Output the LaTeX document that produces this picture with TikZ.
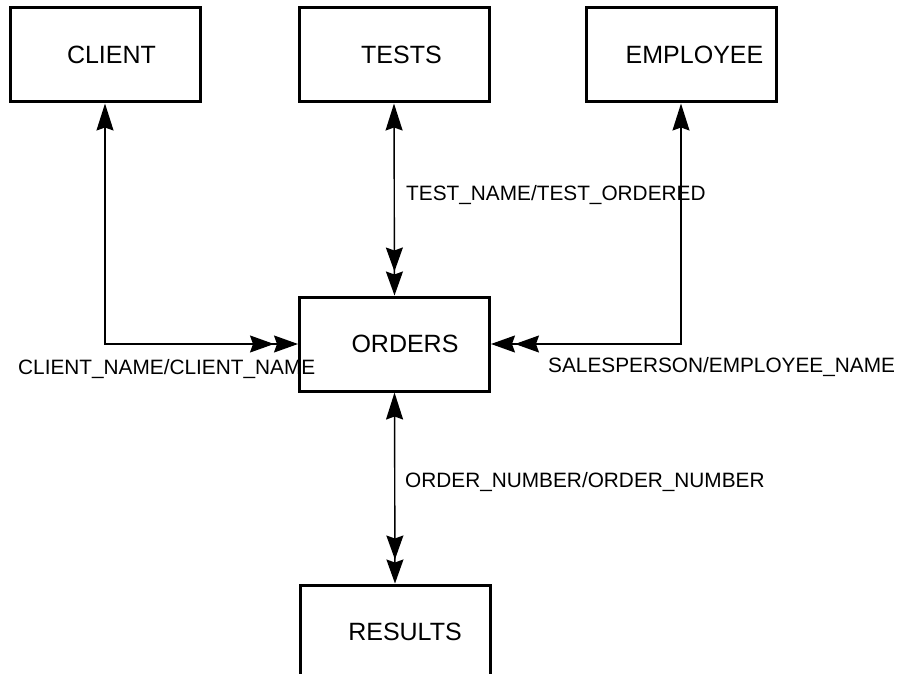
\documentclass[tikz,border=0pt]{standalone}
\usepackage{fontspec}
\setmainfont{Liberation Sans}
\usetikzlibrary{arrows.meta}
\tikzset{
  box/.style={draw,line width=3pt,minimum width=190pt,minimum height=94pt,inner sep=0pt,font=\fontsize{25}{30}\selectfont},
  conn/.style={line width=1.4pt},
  lbl/.style={inner sep=0pt,anchor=base west,font=\fontsize{20.8}{25}\selectfont},
  onehead/.style={{Stealth[length=27pt,width=17pt,inset=3pt]}-{Stealth[length=24pt,width=17pt,inset=3pt] Stealth[length=24pt,width=17pt,inset=3pt]}},
}
\newcommand{\bx}[3]{\hspace*{#1pt}\raisebox{-#2pt}{#3}}
\begin{document}
\begin{tikzpicture}[x=1pt,y=-1pt]
\useasboundingbox (0,0) rectangle (903,674);
\node[box] (client) at (105,55) {\bx{13}{4}{CLIENT}};
\node[box] (tests) at (394,55) {\bx{15}{4}{TESTS}};
\node[box] (employee) at (681,55) {\bx{27}{4}{EMPLOYEE}};
\node[box] (orders) at (394.5,344) {\bx{21}{2}{ORDERS}};
\node[box] (results) at (395,632) {\bx{20}{1.5}{RESULTS}};

\draw[conn,onehead] (client.south) |- (orders.west);
\draw[conn,onehead] (tests.south) -- (orders.north);
\draw[conn,onehead] (employee.south) |- (orders.east);
\draw[conn,onehead] (orders.south) -- (results.north);

\node[lbl] (l1) at (406,200.7) {TEST\_NAME/TEST\_ORDERED};
\node[lbl] (l2) at (18,374) {CLIENT\_NAME/CLIENT\_NAME};
\node[lbl] (l3) at (548,372) {SALESPERSON/EMPLOYEE\_NAME};
\node[lbl] (l4) at (405,487) {ORDER\_NUMBER/ORDER\_NUMBER};
\end{tikzpicture}
\end{document}
